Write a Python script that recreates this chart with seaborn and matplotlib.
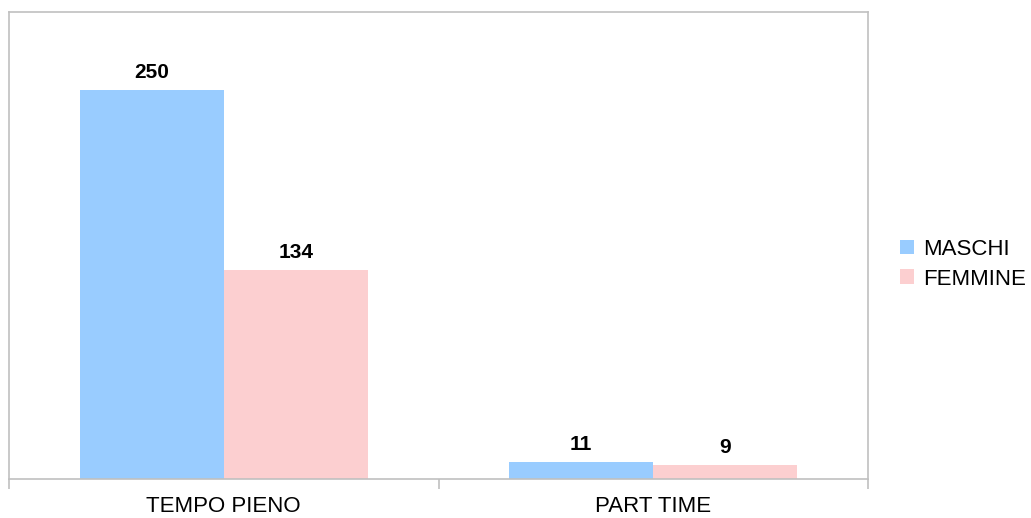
import matplotlib
matplotlib.use("Agg")
import matplotlib.pyplot as plt
import seaborn as sns
import pandas as pd
from matplotlib.ticker import FixedLocator

categories = ["TEMPO PIENO", "PART TIME"]
series = ["MASCHI", "FEMMINE"]
maschi = [250, 11]
femmine = [134, 9]
colors = ["#99CCFF", "#FCCFD0"]

df = pd.DataFrame({
    "cat": categories * 2,
    "sesso": [series[0]] * 2 + [series[1]] * 2,
    "val": maschi + femmine,
})

sns.set_theme(style="white")
plt.rcParams["font.family"] = ["Liberation Sans", "DejaVu Sans"]

fig = plt.figure(figsize=(10.31, 5.18), dpi=100)
ax = fig.add_axes([9 / 1031, 1 - 479 / 518, (868 - 9) / 1031, (479 - 12) / 518])

sns.barplot(data=df, x="cat", y="val", hue="sesso", order=categories,
            hue_order=series, palette=colors, width=0.67, gap=0,
            saturation=1, ax=ax, linewidth=0, errorbar=None)

ax.set_xlim(-0.5, 1.5)
ax.set_ylim(0, 300)
ax.set_xlabel("")
ax.set_ylabel("")
ax.set_yticks([])

for c in ax.containers:
    ax.bar_label(c, fmt="%d", padding=6, fontsize=15, fontweight="bold", color="#000000")

ax.tick_params(axis="x", which="major", length=0, labelsize=16, pad=12, colors="#000000")
ax.xaxis.set_minor_locator(FixedLocator([-0.5, 0.5, 1.5]))
ax.tick_params(axis="x", which="minor", bottom=True, length=7, width=1.2,
               color="#C0C0C0", direction="out")
for s in ax.spines.values():
    s.set_visible(True)
    s.set_color("#C0C0C0")
    s.set_linewidth(1.2)

handles, labels = ax.get_legend_handles_labels()
if ax.legend_:
    ax.legend_.remove()
leg = fig.legend(handles, labels, loc="center left", bbox_to_anchor=(0.862, 0.49),
                 frameon=False, fontsize=16, handlelength=0.65, handleheight=0.65,
                 handletextpad=0.4, labelspacing=0.4, borderpad=0)
for t in leg.get_texts():
    t.set_color("#000000")

fig.savefig("out.png", dpi=100)
